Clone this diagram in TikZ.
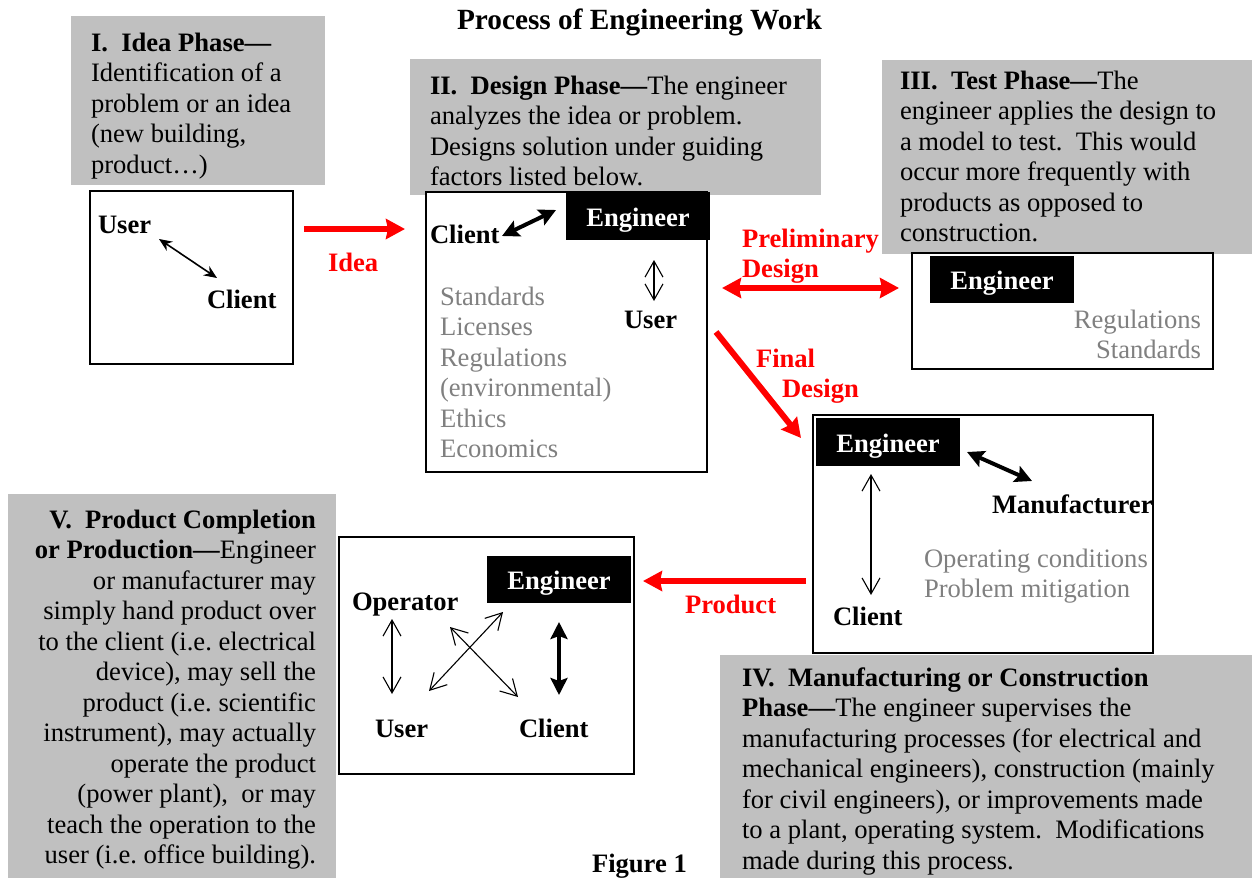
\documentclass[tikz,border=0pt]{standalone}
\usepackage{fontspec}
\setmainfont{Liberation Serif}
\usetikzlibrary{arrows.meta}
\definecolor{boxgray}{HTML}{C0C0C0}
\definecolor{txtgray}{HTML}{808080}
\begin{document}
\begin{tikzpicture}[x=1pt,y=-1pt,
  every node/.style={font=\fontsize{26.6}{30.5}\selectfont\frenchspacing, inner sep=0pt, outer sep=0pt},
  graybox/.style={fill=boxgray, draw=none},
  whitebox/.style={fill=white, draw=black, line width=2pt},
  txt/.style={anchor=north west, align=left},
  rtxt/.style={anchor=north east, align=right},
  lbl/.style={anchor=base west, font=\fontsize{26.6}{30.5}\selectfont\bfseries},
  redlbl/.style={anchor=base west, text=red, font=\fontsize{26.6}{30.5}\selectfont\bfseries},
  engbox/.style={fill=black, text=white, font=\fontsize{26.6}{30.5}\selectfont\bfseries,
    minimum width=144pt, text height=20pt, text depth=0pt},
  thin arrow/.style={line width=1.6pt, {Stealth[length=13pt,width=11pt]}-{Stealth[length=13pt,width=11pt]}},
  thick arrow/.style={line width=4pt, {Stealth[length=17pt,width=17pt,inset=3pt]}-{Stealth[length=17pt,width=17pt,inset=3pt]}},
  open arrow/.style={line width=1.1pt, {Straight Barb[length=16pt,width=18pt]}-{Straight Barb[length=16pt,width=18pt]}},
  red arrow/.style={draw=red, line width=6pt, -{Stealth[length=19pt,width=20pt,inset=2pt]}},
  red double/.style={draw=red, line width=6pt, {Stealth[length=19pt,width=20pt,inset=2pt]}-{Stealth[length=19pt,width=20pt,inset=2pt]}}
]
\useasboundingbox (0,0) rectangle (1252,878);

% title
\node[anchor=base west, font=\fontsize{29.3}{33}\selectfont\bfseries] (title) at (457,29) {Process of Engineering Work};

% gray text boxes
\fill[graybox] (71,16) rectangle (325,185);
\fill[graybox] (410,59) rectangle (821,195);
\fill[graybox] (882,60) rectangle (1252,254);
\fill[graybox] (720,655) rectangle (1252,878);
\fill[graybox] (8,494) rectangle (336,878);

\node[txt] (ideaT) at (91,29.65) {\strut\textbf{I.\ \ Idea Phase—}\\Identification of a\\problem or an idea\\(new building,\\product…)};
\node[txt] (designT) at (430,72.65) {\strut\textbf{II.\ \ Design Phase—}The engineer\\analyzes the idea or problem.\\Designs solution under guiding\\factors listed below.};
\node[txt] (testT) at (900,67.65) {\strut\textbf{III.\ \ Test Phase—}The\\engineer applies the design to\\a model to test.\ \ This would\\occur more frequently with\\products as opposed to\\construction.};
\node[txt] (manufT) at (742,664.65) {\strut\textbf{IV.\ \ Manufacturing or Construction}\\\textbf{Phase—}The engineer supervises the\\manufacturing processes (for electrical and\\mechanical engineers), construction (mainly\\for civil engineers), or improvements made\\to a plant, operating system.\ \ Modifications\\made during this process.};
\node[rtxt] (prodT) at (316,506.65) {\strut\textbf{V.\ \ Product Completion}\\\textbf{or Production—}Engineer\\or manufacturer may\\simply hand product over\\to the client (i.e. electrical\\device), may sell the\\product (i.e. scientific\\instrument), may actually\\operate the product\\(power plant),\ \ or may\\teach the operation to the\\user (i.e. office building).};

% white phase boxes
\draw[whitebox] (90,191) rectangle (293,364);
\draw[whitebox] (426,192) rectangle (707,472);
\draw[whitebox] (912,253) rectangle (1213,369);
\draw[whitebox] (813,415) rectangle (1153,653);
\draw[whitebox] (339,537) rectangle (634,774);

% Idea box
\node[lbl] (iUser) at (98,233) {User};
\node[lbl] (iClient) at (207,308) {Client};
\coordinate (iA) at (159,239);
\coordinate (iB) at (217,278);
\draw[thin arrow] (iA) -- (iB);

% Design box
\node[engbox, minimum height=48pt] (dEng) at (638,216) {Engineer};
\node[lbl] (dClient) at (430,243) {Client};
\node[lbl] (dUser) at (624,328) {User};
\node[txt, text=txtgray] (dList) at (440,283.65) {\strut Standards\\Licenses\\Regulations\\(environmental)\\Ethics\\Economics};
\coordinate (dA) at (502,236);
\coordinate (dB) at (556,210);
\draw[thick arrow] (dA) -- (dB);
\coordinate (dC) at (654,260);
\coordinate (dD) at (654,301);
\draw[open arrow] (dC) -- (dD);

% Test box
\node[engbox, minimum height=47pt] (tEng) at (1002,279.5) {Engineer};
\node[rtxt, text=txtgray] (tList) at (1201,306.65) {\strut Regulations\\Standards};

% Manufacturing box
\node[engbox, minimum height=48pt] (mEng) at (888,442) {Engineer};
\node[lbl] (mMan) at (992,513) {Manufacturer};
\node[lbl] (mClient) at (833,625) {Client};
\node[txt, text=txtgray] (mList) at (924,545.65) {\strut Operating conditions\\Problem mitigation};
\coordinate (mA) at (967,452);
\coordinate (mB) at (1032,481);
\draw[thick arrow] (mA) -- (mB);
\coordinate (mC) at (871,474);
\coordinate (mD) at (871,595);
\draw[open arrow] (mC) -- (mD);

% Product box
\node[engbox, minimum height=47pt] (pEng) at (559,579.5) {Engineer};
\node[lbl] (pOp) at (352,610) {Operator};
\node[lbl] (pUser) at (375,737) {User};
\node[lbl] (pClient) at (519,737) {Client};
\coordinate (pA) at (392,619);
\coordinate (pB) at (392,694);
\draw[open arrow] (pA) -- (pB);
\coordinate (pC) at (429,691);
\coordinate (pD) at (503,612);
\draw[open arrow] (pC) -- (pD);
\coordinate (pE) at (450,627);
\coordinate (pF) at (518,697);
\draw[open arrow] (pE) -- (pF);
\coordinate (pG) at (559,622);
\coordinate (pH) at (559,695);
\draw[thick arrow] (pG) -- (pH);

% red flow arrows
\coordinate (rIdeaA) at (304,229);
\coordinate (rIdeaB) at (405,229);
\draw[red arrow] (rIdeaA) -- (rIdeaB);
\node[redlbl] (lIdea) at (328,271) {Idea};

\coordinate (rPreA) at (722,288);
\coordinate (rPreB) at (899,288);
\draw[red double] (rPreA) -- (rPreB);
\node[redlbl] (lPre1) at (742,247) {Preliminary};
\node[redlbl] (lPre2) at (742,277) {Design};

\coordinate (rFinA) at (716,332);
\coordinate (rFinB) at (801,438);
\draw[red arrow] (rFinA) -- (rFinB);
\node[redlbl] (lFin1) at (756,367) {Final};
\node[redlbl] (lFin2) at (782,397) {Design};

\coordinate (rProdA) at (806,581);
\coordinate (rProdB) at (643,581);
\draw[red arrow] (rProdA) -- (rProdB);
\node[redlbl] (lProd) at (685,613) {Product};

% caption
\node[lbl] (fig) at (592,872) {Figure 1};
\end{tikzpicture}
\end{document}
